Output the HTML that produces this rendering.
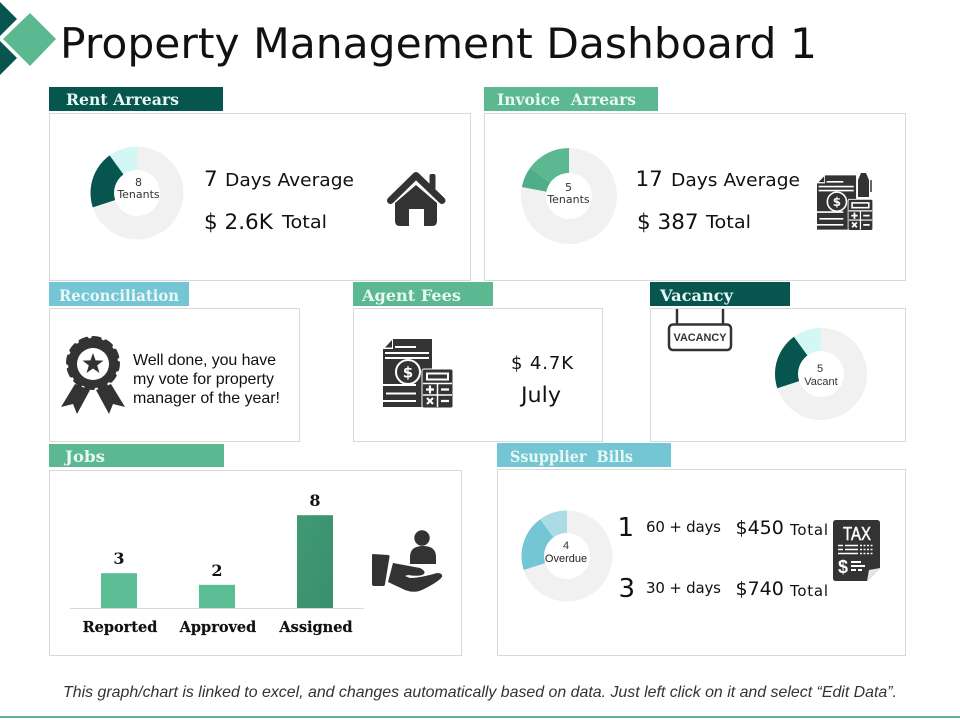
<!DOCTYPE html>
<html lang="en">
<head>
<meta charset="utf-8">
<title>Property Management Dashboard 1</title>
<style>
html,body{margin:0;padding:0;background:#fff;width:960px;height:720px;overflow:hidden}
svg{display:block}
text{font-family:"DejaVu Sans",sans-serif}
.hd{font-family:"DejaVu Serif",serif;font-weight:700;font-size:16px;fill:#e8f8f4}
.big{font-size:21.5px;fill:#111}
.mid{font-size:18px;fill:#111}
.dl{font-family:"Liberation Sans",sans-serif;font-size:11px;fill:#333;text-anchor:middle}
.dlw{font-family:"DejaVu Sans",sans-serif;font-size:11px;fill:#333;text-anchor:middle}
.rec{font-family:"Liberation Sans",sans-serif;font-size:16px;fill:#111}
.panel{fill:#fff;stroke:#d9d9d9;stroke-width:1}
.cat{font-family:"DejaVu Serif",serif;font-weight:700;font-size:14.5px;fill:#111;stroke:#111;stroke-width:.2px;text-anchor:middle}
.val{font-family:"DejaVu Serif",serif;font-weight:700;font-size:16px;fill:#111;text-anchor:middle}
</style>
</head>
<body>
<svg id="page" xmlns="http://www.w3.org/2000/svg" width="960" height="720" viewBox="0 0 960 720">
  <defs>
    <symbol id="bill-calc" viewBox="0 0 69 68" overflow="visible">
      <path d="M10 0H49V31H40V68H0V10H10Z" fill="#333"/>
      <path d="M2 8.500L9 1V8.500Z" fill="#333"/>
      <path d="M12 8H33M2 14H46M2 19H46" stroke="#fff" stroke-width="2"/>
      <circle cx="25" cy="33" r="12" fill="#333" stroke="#fff" stroke-width="2"/>
      <text x="25" y="38.500" font-size="15" font-weight="700" fill="#fff" text-anchor="middle">$</text>
      <path d="M0 46H33M3 54.500H33M0 62H33" stroke="#fff" stroke-width="2"/>
      <rect x="39" y="30" width="31" height="39" rx="2" fill="#333" stroke="#fff" stroke-width="1"/>
      <rect x="44" y="34.500" width="21" height="6" fill="none" stroke="#fff" stroke-width="2"/>
      <path d="M40 44.500H69M40 56H69M54.500 44.500V68" stroke="#fff" stroke-width="1.500"/>
      <path d="M43 50.500H51M47 46.500V54.500M58 50.500H66M44 59L50 65M50 59L44 65M58 62H66" stroke="#fff" stroke-width="2.200"/>
    </symbol>
  </defs>

  <g>
    <polygon points="0,2 17,19 0,36" fill="#06554e"/>
    <polygon points="0,41 17,58 0,75" fill="#06554e"/>
    <polygon points="30,13 56,39 30,66 3,39" fill="#5bb891"/>
  </g>
  <text x="60" y="58" font-size="42" fill="#111" textLength="757" lengthAdjust="spacingAndGlyphs">Property Management Dashboard 1</text>

  <!-- Rent arrears -->
  <rect class="panel" x="49.500" y="113.500" width="421" height="167"/>
  <rect x="49" y="87" width="174" height="24" fill="#06554e"/>
  <text class="hd" x="66" y="105" textLength="113" lengthAdjust="spacingAndGlyphs">Rent Arrears</text>
  <g id="donut-rent"></g>
  <text class="dlw" x="138.500" y="186">8</text>
  <text class="dlw" x="138.500" y="198">Tenants</text>
  <text class="big" x="204" y="186">7</text>
  <text class="mid" x="225" y="186" textLength="129" lengthAdjust="spacingAndGlyphs">Days Average</text>
  <text class="big" x="204" y="229">$ 2.6K</text>
  <text class="mid" x="282" y="228" textLength="45" lengthAdjust="spacingAndGlyphs">Total</text>
  <g fill="#333">
    <path d="M416 185L395 203V221Q395 226 400 226H409V209H424V226H432Q437 226 437 221V203Z"/>
    <path d="M390.500 200.500L416 175.500L442 200.500" fill="none" stroke="#333" stroke-width="7" stroke-linecap="round" stroke-linejoin="round"/>
    <rect x="429.500" y="174" width="6" height="16" rx="2"/>
  </g>

  <!-- Invoice arrears -->
  <rect class="panel" x="484.500" y="113.500" width="421" height="167"/>
  <rect x="484" y="87" width="174" height="24" fill="#5bb891"/>
  <text class="hd" x="497" y="105" textLength="139" lengthAdjust="spacingAndGlyphs" xml:space="preserve">Invoice  Arrears</text>
  <g id="donut-invoice"></g>
  <text class="dlw" x="568.500" y="191">5</text>
  <text class="dlw" x="568.500" y="203">Tenants</text>
  <text class="big" x="635.500" y="186">17</text>
  <text class="mid" x="671" y="186" textLength="129" lengthAdjust="spacingAndGlyphs">Days Average</text>
  <text class="big" x="637" y="229">$ 387</text>
  <text class="mid" x="706" y="228" textLength="45" lengthAdjust="spacingAndGlyphs">Total</text>
  <g>
    <use href="#bill-calc" x="817" y="175" width="55" height="55"/>
    <path d="M858 197V180L861 173H866L869 180V197Z" fill="#333"/>
    <path d="M871 180V192" stroke="#333" stroke-width="1.500"/>
  </g>

  <!-- Reconciliation -->
  <rect class="panel" x="49.500" y="308.500" width="250" height="133"/>
  <rect x="49" y="282" width="140" height="24" fill="#74c6d4"/>
  <text class="hd" x="59" y="301" textLength="120" lengthAdjust="spacingAndGlyphs">Reconciliation</text>
  <g>
    <polygon points="75,384 90,390 77,414 73,404 61,407" fill="#333"/>
    <polygon points="111,384 96,390 109,414 113,404 125,407" fill="#333"/>
    <circle cx="93" cy="363" r="25" fill="#333"/>
    <circle cx="93" cy="363" r="25" fill="none" stroke="#333" stroke-width="4" stroke-linecap="round" stroke-dasharray="6.500 6.590"/>
    <circle cx="93" cy="364" r="16" fill="#fff"/>
    <polygon points="93,353 95.600,360.400 103.500,360.600 97.200,365.400 99.500,373 93,368.500 86.500,373 88.800,365.400 82.500,360.600 90.400,360.400" fill="#333"/>
  </g>
  <text class="rec" x="133" y="365" textLength="143" lengthAdjust="spacing">Well done, you have</text>
  <text class="rec" x="133" y="384" textLength="141" lengthAdjust="spacing">my vote for property</text>
  <text class="rec" x="133" y="403" textLength="147" lengthAdjust="spacing">manager of the year!</text>

  <!-- Agent fees -->
  <rect class="panel" x="353.500" y="308.500" width="249" height="133"/>
  <rect x="353" y="282" width="140" height="24" fill="#5bb891"/>
  <text class="hd" x="362" y="301" textLength="99" lengthAdjust="spacingAndGlyphs">Agent Fees</text>
  <use href="#bill-calc" x="383" y="339" width="69" height="68"/>
  <text class="mid" x="511" y="369" textLength="62" lengthAdjust="spacing">$ 4.7K</text>
  <text font-size="21" fill="#111" x="521" y="402" textLength="40" lengthAdjust="spacingAndGlyphs">July</text>

  <!-- Vacancy -->
  <rect class="panel" x="650.500" y="308.500" width="255" height="133"/>
  <rect x="650" y="282" width="140" height="24" fill="#06554e"/>
  <text class="hd" x="660" y="301" textLength="73" lengthAdjust="spacingAndGlyphs">Vacancy</text>
  <g>
    <path d="M677 309V325M723 309V325" stroke="#333" stroke-width="2.500"/>
    <rect x="669" y="324.500" width="62" height="25.500" rx="4" fill="#fff" stroke="#333" stroke-width="2.500"/>
    <text x="700" y="341" font-size="11" font-weight="700" fill="#333" text-anchor="middle" style="font-family:'Liberation Sans',sans-serif" textLength="53" lengthAdjust="spacingAndGlyphs">VACANCY</text>
  </g>
  <g id="donut-vacancy"></g>
  <text class="dl" x="820" y="372">5</text>
  <text class="dl" x="821" y="385">Vacant</text>

  <!-- Jobs -->
  <rect class="panel" x="49.500" y="470.500" width="412" height="185"/>
  <rect x="49" y="444" width="175" height="23" fill="#5bb891"/>
  <text class="hd" x="65" y="462" textLength="40" lengthAdjust="spacingAndGlyphs">Jobs</text>
  <defs>
    <linearGradient id="bar-dark" x1="0" y1="0" x2="1" y2="1">
      <stop offset="0" stop-color="#3f9a74"/>
      <stop offset="1" stop-color="#3a8f6c"/>
    </linearGradient>
  </defs>
  <g id="jobs-chart"></g>
  <g fill="#333">
    <circle cx="422" cy="538" r="7.700"/>
    <path d="M410 564V557Q410 546 423 546Q436 546 436 557V564Z"/>
    <path d="M373 554L388 555Q390 555 389.500 557L385 584Q385 586 383 586L374 586Q372 586 372 584V556Q372 554 373 554Z"/>
    <path d="M393 563L420 568Q426 571 424 574Q420 577 408 575L405 576L410 578Q420 578 437 573Q443 573 442 577Q438 582 424 589Q415 594 405 590L388 582Z"/>
  </g>

  <!-- Supplier bills -->
  <rect class="panel" x="497.500" y="469.500" width="408" height="186"/>
  <rect x="497" y="443" width="174" height="24" fill="#74c6d4"/>
  <text class="hd" x="510" y="462" textLength="123" lengthAdjust="spacingAndGlyphs" xml:space="preserve">Ssupplier  Bills</text>
  <g id="donut-supplier"></g>
  <text class="dl" x="566" y="549">4</text>
  <text class="dl" x="566" y="562" style="fill:#222">Overdue</text>

  <text x="617.500" y="536" font-size="26" fill="#111">1</text>
  <text x="646" y="532" font-size="15" fill="#111" textLength="75" lengthAdjust="spacing">60 + days</text>
  <text x="735.500" y="534" font-size="19" fill="#111">$450</text>
  <text x="790" y="535" font-size="15" fill="#111" textLength="38" lengthAdjust="spacing">Total</text>
  <text x="618.500" y="597" font-size="26" fill="#111">3</text>
  <text x="646" y="593" font-size="15" fill="#111" textLength="75" lengthAdjust="spacing">30 + days</text>
  <text x="735.500" y="595" font-size="19" fill="#111">$740</text>
  <text x="790" y="596" font-size="15" fill="#111" textLength="38" lengthAdjust="spacing">Total</text>

  <g>
    <path d="M836 520H877Q880 520 880 523V568L867 581H836Q833 581 833 578V523Q833 520 836 520Z" fill="#333"/>
    <path d="M880 568L867 581L869 570Z" fill="#e6e6e6"/>
    <text x="857" y="540" font-size="18" fill="#fff" stroke="#fff" stroke-width=".5" text-anchor="middle" style="font-family:'Liberation Sans',sans-serif" textLength="28" lengthAdjust="spacingAndGlyphs">TAX</text>
    <path d="M838 545.500H843M845 545.500H858M838 549.500H843M845 549.500H858M838 553.500H858" stroke="#fff" stroke-width="1.500"/>
    <path d="M860 545.500H874M860 549.500H874M860 553.500H874" stroke="#fff" stroke-width="1.500" stroke-dasharray="2 1.500"/>
    <text x="843" y="573" font-size="18" font-weight="700" fill="#fff" text-anchor="middle" style="font-family:'Liberation Sans',sans-serif">$</text>
    <path d="M851 562H861M851 566H865M851 570H856M858 570H862" stroke="#fff" stroke-width="2"/>
  </g>

  <!-- Footer -->
  <text x="63" y="697" font-size="16" fill="#333" font-style="italic" style="font-family:'Liberation Sans',sans-serif" textLength="834" lengthAdjust="spacingAndGlyphs">This graph/chart is linked to excel, and changes automatically based on data. Just left click on it and select “Edit Data”.</text>
  <rect x="0" y="716" width="960" height="2" fill="#5fb08f"/>
</svg>

<script>
// Donut shares, in percent, clockwise from 12 o'clock
const rentShares = [70, 20, 10];
const invoiceShares = [78, 7, 15];
const vacancyShares = [70, 20, 10];
const supplierShares = [70, 20, 10];
const shareNames = ['remainder', 'primary', 'secondary'];

// Jobs bar chart
const jobCategories = ['Reported', 'Approved', 'Assigned'];
const jobValues = [3, 2, 8];

const SVG_NS = 'http://www.w3.org/2000/svg';

function polar(cx, cy, r, angle) {
  return [cx + r * Math.sin(angle), cy - r * Math.cos(angle)];
}

function drawDonut(id, cx, cy, rOut, rIn, values, colors) {
  const host = document.getElementById(id);
  const total = values.reduce(function (a, b) { return a + b; }, 0);
  let start = 0;
  values.forEach(function (value, i) {
    const end = start + value / total * Math.PI * 2;
    const a = polar(cx, cy, rOut, start);
    const b = polar(cx, cy, rOut, end);
    const c = polar(cx, cy, rIn, end);
    const d = polar(cx, cy, rIn, start);
    const large = end - start > Math.PI ? 1 : 0;
    const slice = document.createElementNS(SVG_NS, 'path');
    slice.setAttribute('d', 'M' + a[0] + ' ' + a[1] + 'A' + rOut + ' ' + rOut + ' 0 ' + large + ' 1 ' + b[0] + ' ' + b[1] + 'L' + c[0] + ' ' + c[1] + 'A' + rIn + ' ' + rIn + ' 0 ' + large + ' 0 ' + d[0] + ' ' + d[1] + 'Z');
    slice.setAttribute('fill', colors[i]);
    
    
    host.appendChild(slice);
    start = end;
  });
}

drawDonut('donut-rent', 137, 193, 46.5, 23, rentShares, ['#f1f1f1', '#06554e', '#d3f7f5']);
drawDonut('donut-invoice', 569, 196, 48, 23, invoiceShares, ['#f1f1f1', '#4fae88', '#5bb891']);
drawDonut('donut-vacancy', 821, 374, 46, 23, vacancyShares, ['#f1f1f1', '#06554e', '#d3f7f5']);
drawDonut('donut-supplier', 567, 556, 45.5, 23, supplierShares, ['#f1f1f1', '#74c6d4', '#abdce5']);

// Chart axes
const chartBaseline = 608;
const unitHeight = 11.6;
const firstCenter = 119;
const categoryStep = 98;
const barWidth = 36;

function xScale(i) { return firstCenter + i * categoryStep; }
function yScale(v) { return chartBaseline - v * unitHeight; }

const chart = document.getElementById('jobs-chart');

jobValues.forEach(function (value, i) {
  const bar = document.createElementNS(SVG_NS, 'rect');
  bar.setAttribute('x', xScale(i) - barWidth / 2);
  bar.setAttribute('y', yScale(value));
  bar.setAttribute('width', barWidth);
  bar.setAttribute('height', chartBaseline - yScale(value));
  bar.setAttribute('fill', i === 2 ? 'url(#bar-dark)' : '#5bbd94');
  
  
  chart.appendChild(bar);

  const label = document.createElementNS(SVG_NS, 'text');
  label.setAttribute('x', xScale(i));
  label.setAttribute('y', yScale(value) - 9);
  label.setAttribute('class', 'val');
  
  
  label.textContent = value;
  chart.appendChild(label);

  const cat = document.createElementNS(SVG_NS, 'text');
  cat.setAttribute('x', xScale(i) + 1);
  cat.setAttribute('y', 632);
  cat.setAttribute('class', 'cat');
  
  
  cat.textContent = jobCategories[i];
  chart.appendChild(cat);
});

const axisLine = document.createElementNS(SVG_NS, 'line');
axisLine.setAttribute('x1', 70);
axisLine.setAttribute('x2', 364);
axisLine.setAttribute('y1', chartBaseline + 0.5);
axisLine.setAttribute('y2', chartBaseline + 0.5);
axisLine.setAttribute('stroke', '#d9d9d9');


chart.appendChild(axisLine);
</script>
</body>
</html>
